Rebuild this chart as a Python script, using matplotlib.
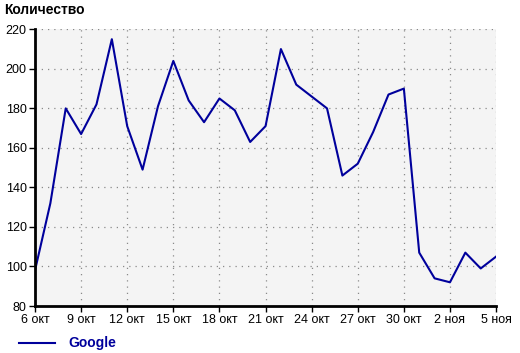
import matplotlib
matplotlib.use('Agg')
import matplotlib.pyplot as plt

plt.rcParams['font.family'] = ['Liberation Sans', 'DejaVu Sans']

# daily values, 6 Oct .. 5 Nov
days = ['6 окт', '7 окт', '8 окт', '9 окт', '10 окт', '11 окт', '12 окт', '13 окт',
        '14 окт', '15 окт', '16 окт', '17 окт', '18 окт', '19 окт', '20 окт', '21 окт',
        '22 окт', '23 окт', '24 окт', '25 окт', '26 окт', '27 окт', '28 окт', '29 окт',
        '30 окт', '31 окт', '1 ноя', '2 ноя', '3 ноя', '4 ноя', '5 ноя']
google = [98, 132, 180, 167, 182, 215, 171, 149, 181, 204, 184, 173, 185, 179, 163, 171,
          210, 192, 186, 180, 146, 152, 168, 187, 190, 107, 94, 92, 107, 99, 105]
yticks = [80, 100, 120, 140, 160, 180, 200, 220]

line_color = '#00009c'

fig = plt.figure(figsize=(5.2, 3.53), dpi=100)
ax = fig.add_axes([0.0673, 0.1331, 0.8867, 0.7839])
ax.set_facecolor('#f4f4f4')

x = list(range(len(days)))
ax.plot(x, google, color=line_color, lw=1.5, label='Google')

ax.set_xlim(0, len(days) - 1)
ax.set_ylim(yticks[0], yticks[-1])
xt = x[::3]
ax.set_xticks(xt)
ax.set_xticklabels([days[i] for i in xt])
ax.set_yticks(yticks)
ax.tick_params(labelsize=9, length=4, width=1, color='black', pad=2)

ax.grid(True, color='#8a8a8a', linestyle=(0, (1, 4)), linewidth=0.9)
ax.set_axisbelow(True)
for s in ['top', 'right']:
    ax.spines[s].set_visible(False)
for s in ['left', 'bottom']:
    ax.spines[s].set_linewidth(2)

fig.text(0.008, 0.952, 'Количество', fontsize=10, fontweight='bold', ha='left', va='bottom')

leg = fig.legend(loc='lower left', bbox_to_anchor=(0.012, -0.028), frameon=False,
                 handlelength=2.6, handletextpad=1.0,
                 prop={'weight': 'bold', 'size': 10})
for t in leg.get_texts():
    t.set_color(line_color)

fig.savefig('out.png', dpi=100)
